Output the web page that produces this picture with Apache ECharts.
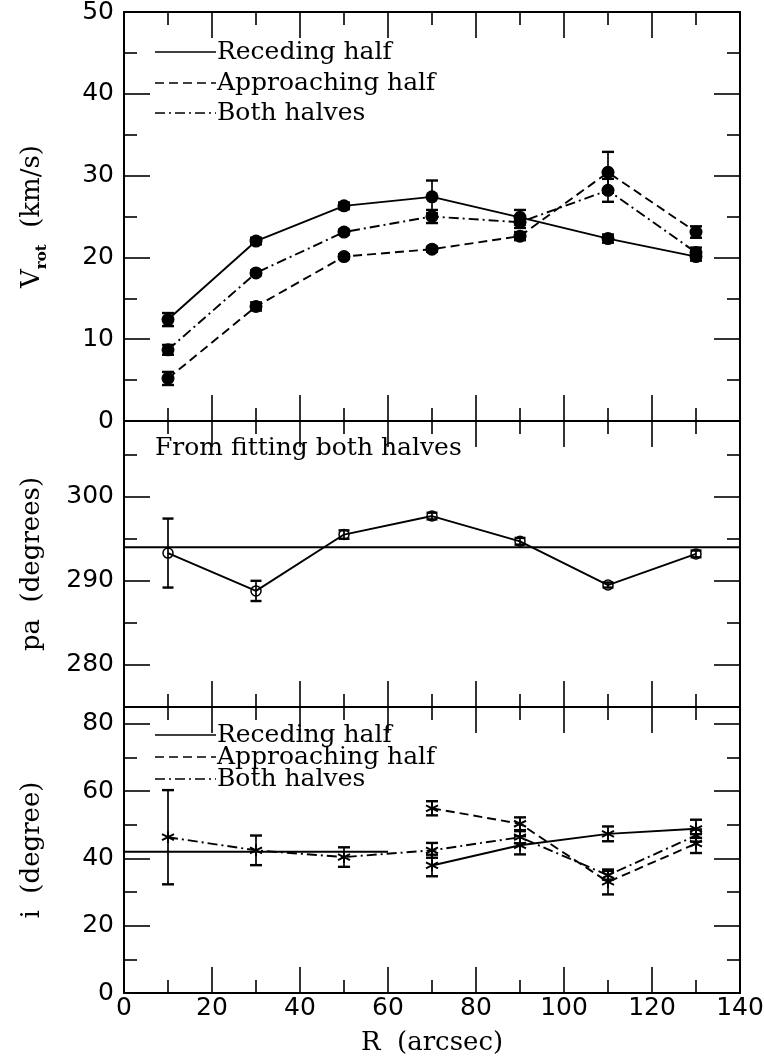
<!DOCTYPE html>
<html><head><meta charset="utf-8">
<script src="https://cdn.jsdelivr.net/npm/echarts@6/dist/echarts.min.js"></script>
<style>html,body{margin:0;padding:0;background:#fff}#c{width:764px;height:1063px}</style>
</head><body><div id="c"></div>
<script>
// ---------------- data ----------------
const R = [10, 30, 50, 70, 90, 110, 130];

const vrotReceding       = [12.4, 22.0, 26.3, 27.4, 24.9, 22.3, 20.1];
const vrotRecedingErr    = [0.8, 0.4, 0.4, 2.0, 0.9, 0.5, 0.5];
const vrotApproaching    = [5.2, 14.0, 20.1, 21.0, 22.6, 30.4, 23.1];
const vrotApproachingErr = [0.8, 0.5, 0.3, 0.3, 0.5, 2.5, 0.7];
const vrotBoth           = [8.7, 18.1, 23.1, 25.0, 24.3, 28.2, 20.6];
const vrotBothErr        = [0.6, 0.3, 0.3, 0.8, 0.7, 1.4, 0.6];

const paBoth    = [293.3, 288.8, 295.5, 297.7, 294.7, 289.5, 293.2];
const paBothErr = [4.1, 1.2, 0.5, 0.4, 0.4, 0.3, 0.4];
const paRef     = 294;
const paRefRange = [0, 140];

const incReceding       = [null, null, null, 37.9, 43.9, 47.3, 48.8];
const incRecedingErr    = [null, null, null, 3.2, 2.7, 2.2, 2.7];
const incApproaching    = [null, null, null, 54.9, 50.3, 33.0, 44.4];
const incApproachingErr = [null, null, null, 2.1, 1.9, 3.7, 2.8];
const incBoth           = [46.3, 42.4, 40.4, 42.4, 46.3, 35.0, 46.8];
const incBothErr        = [14.0, 4.4, 2.9, 2.2, 1.8, 1.3, 1.8];
const incRef      = 42;
const incRefRange = [0, 60];

const xMajor = [0, 20, 40, 60, 80, 100, 120, 140];
const xMinor = [10, 30, 50, 70, 90, 110, 130];
const vrotMajor = [0, 10, 20, 30, 40, 50];
const vrotMinor = [5, 15, 25, 35, 45];
const paMajor = [280, 290, 300];
const paMinor = [285, 295, 305];
const incMajor = [0, 20, 40, 60, 80];
const incMinor = [10, 30, 50, 70];

const legendNames = ['Receding half', 'Approaching half', 'Both halves'];
const paNote = 'From fitting both halves';

// ---------------- styles ----------------
const SERIF = 'DejaVu Serif';
const SANS = 'DejaVu Sans';
const DASH = [9, 5];
const DASHDOT = [10, 4, 2, 4];
const LW = 1.9;
const TXT = 25;
const NUM = 25;

const panels = [
  {top: 12, height: 409, min: 0, max: 50, major: vrotMajor, minor: vrotMinor,
   name: '{v|V}{s|rot}{v|  (km/s)}'},
  {top: 421, height: 286, min: 275, max: 309, major: paMajor, minor: paMinor,
   name: '{v|pa  (degrees)}'},
  {top: 707, height: 286, min: 0, max: 85, major: incMajor, minor: incMinor,
   name: '{v|i  (degree)}'}
];

const grids = [], xAxes = [], yAxes = [];
panels.forEach((p, pi) => {
  [0, 1].forEach(k => {
    const gi = pi * 2 + k;
    grids.push({left: 124, top: p.top, width: 616, height: p.height, outerBoundsMode: 'none', containLabel: false});
    ['bottom', 'top'].forEach(pos => {
      const major = k === 0;
      const showLab = major && pos === 'bottom' && pi === 2;
      xAxes.push({
        type: 'value', gridIndex: gi, position: pos, min: 0, max: 140,
        axisLine: {show: major, onZero: false, lineStyle: {color: '#000', width: 2}},
        axisTick: {show: true, inside: true, length: major ? 26 : 13,
                   customValues: major ? xMajor : xMinor, lineStyle: {color: '#000', width: 1.6}},
        axisLabel: {show: showLab, customValues: xMajor, color: '#000', fontFamily: SANS, fontSize: NUM, margin: 3},
        splitLine: {show: false},
        name: showLab ? 'R  (arcsec)' : '', nameLocation: 'middle', nameGap: 37,
        nameTextStyle: {color: '#000', fontFamily: SERIF, fontSize: 26}
      });
    });
    ['left', 'right'].forEach(pos => {
      const major = k === 0;
      const showLab = major && pos === 'left';
      yAxes.push({
        type: 'value', gridIndex: gi, position: pos, min: p.min, max: p.max,
        axisLine: {show: major, onZero: false, lineStyle: {color: '#000', width: 2}},
        axisTick: {show: true, inside: true, length: major ? 26 : 13,
                   customValues: major ? p.major : p.minor, lineStyle: {color: '#000', width: 1.6}},
        axisLabel: {show: showLab, customValues: p.major, color: '#000', fontFamily: SANS, fontSize: NUM, margin: 10},
        splitLine: {show: false},
        name: showLab ? p.name : '', nameLocation: 'middle', nameRotate: 90, nameGap: 79,
        nameTextStyle: {color: '#000', rich: {
          v: {fontFamily: SERIF, fontSize: 26, color: '#000', lineHeight: 32, verticalAlign: 'bottom'},
          s: {fontFamily: SERIF, fontSize: 15, fontWeight: 'bold', color: '#000', lineHeight: 32, verticalAlign: 'bottom', padding: [0, 0, -5, 0]}
        }}
      });
    });
  });
});

// ---------------- series helpers ----------------
function pts(vals) {
  const out = [];
  R.forEach((r, i) => { if (vals[i] != null) out.push([r, vals[i]]); });
  return out;
}
function errPts(vals, errs) {
  const out = [];
  R.forEach((r, i) => { if (vals[i] != null) out.push([r, vals[i], errs[i]]); });
  return out;
}
function errSeries(pi, vals, errs, capW) {
  return {
    type: 'custom', xAxisIndex: pi * 4, yAxisIndex: pi * 4, z: 3,
    data: errPts(vals, errs), encode: {x: 0, y: 1},
    renderItem: function (params, api) {
      const x = api.value(0), y = api.value(1), e = api.value(2);
      const t = api.coord([x, y + e]), b = api.coord([x, y - e]);
      const h = capW / 2;
      const st = {stroke: '#000', lineWidth: 1.7};
      const cs = {stroke: '#000', lineWidth: 2.4};
      return {type: 'group', children: [
        {type: 'line', shape: {x1: t[0], y1: t[1], x2: b[0], y2: b[1]}, style: st},
        {type: 'line', shape: {x1: t[0] - h, y1: t[1], x2: t[0] + h, y2: t[1]}, style: cs},
        {type: 'line', shape: {x1: b[0] - h, y1: b[1], x2: b[0] + h, y2: b[1]}, style: cs}
      ]};
    }
  };
}
function lineSeries(pi, data, dash, symbol, size, filled, bw) {
  return {
    type: 'line', xAxisIndex: pi * 4, yAxisIndex: pi * 4, data: data, z: 2,
    lineStyle: {color: '#000', width: LW, type: dash || 'solid'},
    symbol: symbol, symbolSize: size, showSymbol: symbol !== 'none',
    itemStyle: filled ? {color: '#000', borderWidth: 0}
                      : {color: 'rgba(0,0,0,0)', borderColor: '#000', borderWidth: bw || 1.5},
    emphasis: {disabled: true}, silent: true, animation: false
  };
}
const STAR = 'path://M0,-10L0,10M-8.66,-5L8.66,5M-8.66,5L8.66,-5';

const series = [
  // panel 1: V_rot
  lineSeries(0, pts(vrotReceding), 'solid', 'circle', 13, true),
  lineSeries(0, pts(vrotApproaching), DASH, 'circle', 13, true),
  lineSeries(0, pts(vrotBoth), DASHDOT, 'circle', 13, true),
  errSeries(0, vrotReceding, vrotRecedingErr, 12),
  errSeries(0, vrotApproaching, vrotApproachingErr, 12),
  errSeries(0, vrotBoth, vrotBothErr, 12),
  // panel 2: pa
  lineSeries(1, paRefRange.map(x => [x, paRef]), 'solid', 'none', 0, true),
  lineSeries(1, pts(paBoth), 'solid', 'circle', 10, false),
  errSeries(1, paBoth, paBothErr, 11),
  // panel 3: inclination
  lineSeries(2, incRefRange.map(x => [x, incRef]), 'solid', 'none', 0, true),
  lineSeries(2, pts(incReceding), 'solid', STAR, 12, false, 2),
  lineSeries(2, pts(incApproaching), DASH, STAR, 12, false, 2),
  lineSeries(2, pts(incBoth), DASHDOT, STAR, 12, false, 2),
  errSeries(2, incReceding, incRecedingErr, 12),
  errSeries(2, incApproaching, incApproachingErr, 12),
  errSeries(2, incBoth, incBothErr, 12)
];

// ---------------- legends / notes (graphic) ----------------
const dashes = ['solid', DASH, DASHDOT];
function legendGraphics(ys) {
  const g = [];
  ys.forEach((y, i) => {
    g.push({type: 'line', shape: {x1: 155, y1: y, x2: 216, y2: y},
            style: {stroke: '#000', lineWidth: 1.7, lineDash: i === 0 ? null : dashes[i]}});
    g.push({type: 'text', x: 217, y: y, style: {text: legendNames[i], font: TXT + 'px "' + SERIF + '"',
            fill: '#000', textVerticalAlign: 'middle', verticalAlign: 'middle'}});
  });
  return g;
}
const graphic = [].concat(
  legendGraphics([52, 83, 113]),
  legendGraphics([735, 757, 779]),
  [{type: 'text', x: 155, y: 448, style: {text: paNote, font: TXT + 'px "' + SERIF + '"', fill: '#000',
    verticalAlign: 'middle', textVerticalAlign: 'middle'}}]
);

const chart = echarts.init(document.getElementById('c'), null, {renderer: 'canvas'});
chart.setOption({
  animation: false,
  backgroundColor: '#fff',
  grid: grids, xAxis: xAxes, yAxis: yAxes,
  series: series,
  graphic: graphic
});
</script></body></html>
